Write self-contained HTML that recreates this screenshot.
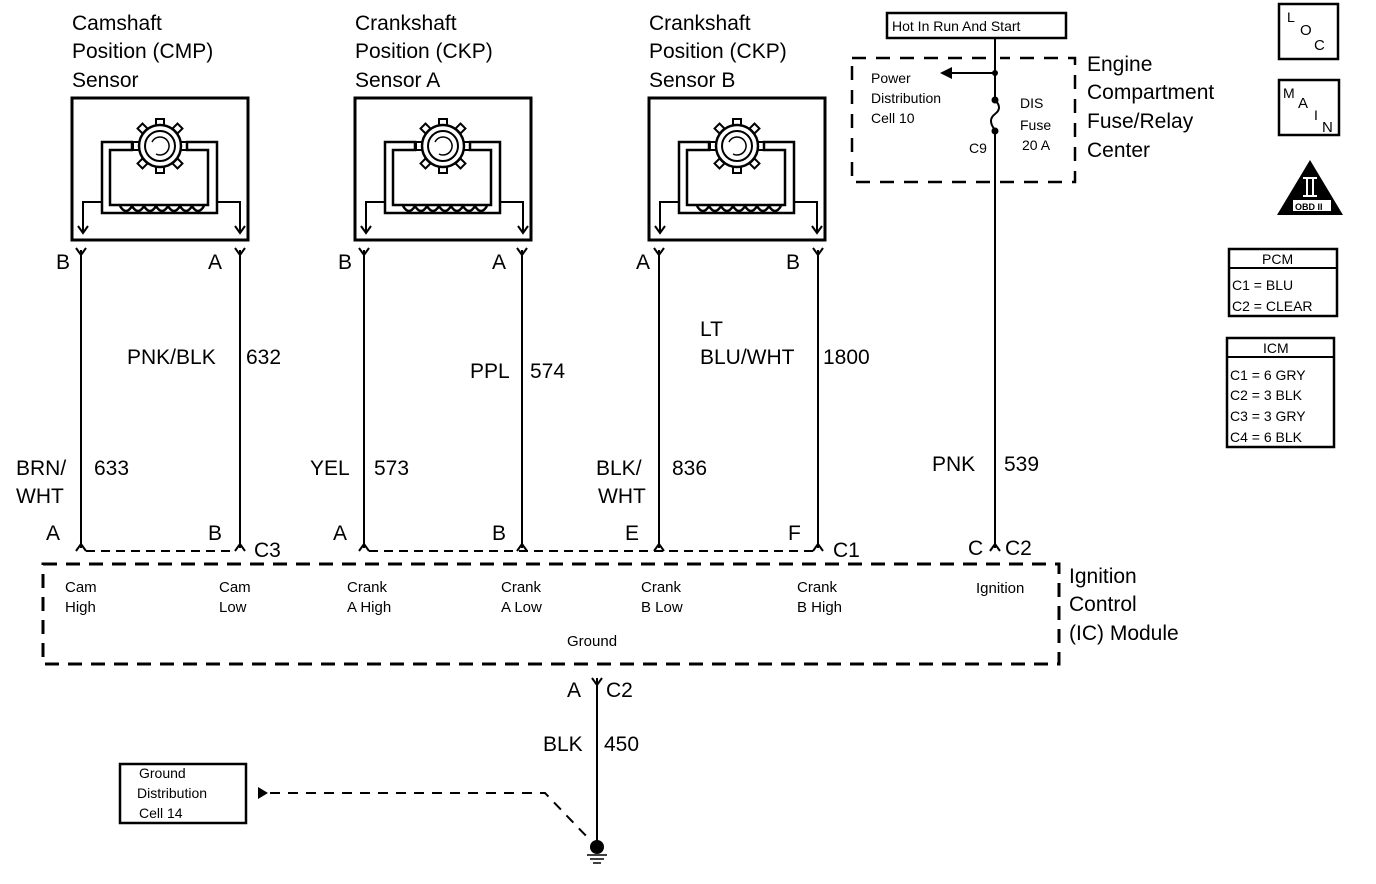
<!DOCTYPE html>
<html><head><meta charset="utf-8"><style>
html,body{margin:0;padding:0;background:#fff}
svg{display:block}
text{font-family:"Liberation Sans",Arial,sans-serif;fill:#000}
.big{font-size:21px}
.sm{font-size:15px}
.xs{font-size:14px}
</style></head><body>
<svg width="1376" height="884" viewBox="0 0 1376 884" xmlns="http://www.w3.org/2000/svg">
<defs>
<g id="sens" fill="none" stroke="#000" stroke-width="2.5">
<rect x="0" y="0" width="176" height="142" stroke-width="3"/>
<circle cx="88" cy="48" r="21"/>
<circle cx="88" cy="48" r="15" stroke-width="2"/>
<g stroke-width="2">
<rect x="84" y="21" width="8" height="6"/><rect x="84" y="69" width="8" height="6"/>
<rect x="61" y="44" width="6" height="8"/><rect x="109" y="44" width="6" height="8"/>
<rect x="67" y="27" width="7" height="7" transform="rotate(45 70.5 30.5)"/>
<rect x="102" y="27" width="7" height="7" transform="rotate(45 105.5 30.5)"/>
<rect x="67" y="62" width="7" height="7" transform="rotate(45 70.5 65.5)"/>
<rect x="102" y="62" width="7" height="7" transform="rotate(45 105.5 65.5)"/>
</g>
<path d="M80 44 A9 9 0 1 1 84 56" stroke-width="1.5"/>
<path d="M60 52 V44 H30 V115 H145 V44 H115 V52 H136 V107 H38 V52 Z" stroke-width="2.5"/>
<path d="M48 108 q6 10 12 0 q6 10 12 0 q6 10 12 0 q6 10 12 0 q6 10 12 0 q6 10 12 0 q6 10 12 0" stroke-width="2.5"/>
<path d="M30 104 H11 V134 M145 104 H168 V134" stroke-width="2"/>
<path d="M6 128 L11 135 L16 128 M163 128 L168 135 L173 128" stroke-width="2"/>
</g>
<g id="yc" fill="none" stroke="#000" stroke-width="2"><path d="M-5 0 L0 7 L5 0"/></g>
<g id="ac" fill="none" stroke="#000" stroke-width="2"><path d="M-5 7 L0 0 L5 7"/></g>
</defs>

<text class="big" x="72" y="30">Camshaft</text>
<text class="big" x="72" y="58">Position (CMP)</text>
<text class="big" x="72" y="87">Sensor</text>
<text class="big" x="355" y="30">Crankshaft</text>
<text class="big" x="355" y="58">Position (CKP)</text>
<text class="big" x="355" y="87">Sensor A</text>
<text class="big" x="649" y="30">Crankshaft</text>
<text class="big" x="649" y="58">Position (CKP)</text>
<text class="big" x="649" y="87">Sensor B</text>

<use href="#sens" x="72" y="98"/>
<use href="#sens" x="355" y="98"/>
<use href="#sens" x="649" y="98"/>

<g stroke="#000" stroke-width="2" fill="none">
<path d="M81 250 V548 M240 250 V548 M364 250 V548 M522 250 V548 M659 250 V548 M818 250 V548"/>
<path d="M995 38 V548"/>
<path d="M597 678 V848"/>
</g>
<g>
<use href="#yc" x="81" y="248"/><use href="#yc" x="240" y="248"/>
<use href="#yc" x="364" y="248"/><use href="#yc" x="522" y="248"/>
<use href="#yc" x="659" y="248"/><use href="#yc" x="818" y="248"/>
<use href="#ac" x="81" y="544"/><use href="#ac" x="240" y="544"/>
<use href="#ac" x="364" y="544"/><use href="#ac" x="522" y="544"/>
<use href="#ac" x="659" y="544"/><use href="#ac" x="818" y="544"/>
<use href="#ac" x="995" y="544"/>
<use href="#yc" x="597" y="678"/>
</g>
<path d="M86 551 H235 M369 551 H813" stroke="#000" stroke-width="2" stroke-dasharray="9,6" fill="none"/>

<text class="big" x="56" y="269">B</text><text class="big" x="208" y="269">A</text>
<text class="big" x="338" y="269">B</text><text class="big" x="492" y="269">A</text>
<text class="big" x="636" y="269">A</text><text class="big" x="786" y="269">B</text>

<text class="big" x="127" y="364">PNK/BLK</text><text class="big" x="246" y="364">632</text>
<text class="big" x="470" y="378">PPL</text><text class="big" x="530" y="378">574</text>
<text class="big" x="700" y="336">LT</text>
<text class="big" x="700" y="364">BLU/WHT</text><text class="big" x="823" y="364">1800</text>
<text class="big" x="16" y="475">BRN/</text><text class="big" x="16" y="503">WHT</text><text class="big" x="94" y="475">633</text>
<text class="big" x="310" y="475">YEL</text><text class="big" x="374" y="475">573</text>
<text class="big" x="596" y="475">BLK/</text><text class="big" x="598" y="503">WHT</text><text class="big" x="672" y="475">836</text>
<text class="big" x="932" y="471">PNK</text><text class="big" x="1004" y="471">539</text>

<text class="big" x="46" y="540">A</text><text class="big" x="208" y="540">B</text><text class="big" x="254" y="557">C3</text>
<text class="big" x="333" y="540">A</text><text class="big" x="492" y="540">B</text>
<text class="big" x="625" y="540">E</text><text class="big" x="788" y="540">F</text><text class="big" x="833" y="557">C1</text>
<text class="big" x="968" y="555">C</text><text class="big" x="1005" y="555">C2</text>

<rect x="43" y="564" width="1016" height="100" fill="none" stroke="#000" stroke-width="3" stroke-dasharray="14,9"/>
<text class="sm" x="65" y="592">Cam</text><text class="sm" x="65" y="612">High</text>
<text class="sm" x="219" y="592">Cam</text><text class="sm" x="219" y="612">Low</text>
<text class="sm" x="347" y="592">Crank</text><text class="sm" x="347" y="612">A High</text>
<text class="sm" x="501" y="592">Crank</text><text class="sm" x="501" y="612">A Low</text>
<text class="sm" x="641" y="592">Crank</text><text class="sm" x="641" y="612">B Low</text>
<text class="sm" x="797" y="592">Crank</text><text class="sm" x="797" y="612">B High</text>
<text class="sm" x="976" y="593">Ignition</text>
<text class="sm" x="567" y="646">Ground</text>
<text class="big" x="1069" y="583">Ignition</text>
<text class="big" x="1069" y="611">Control</text>
<text class="big" x="1069" y="640">(IC) Module</text>

<text class="big" x="567" y="697">A</text><text class="big" x="606" y="697">C2</text>
<text class="big" x="543" y="751">BLK</text><text class="big" x="604" y="751">450</text>
<circle cx="597" cy="847" r="7" fill="#000"/>
<path d="M587 855 H607 M590 859 H604 M593 863 H601" stroke="#000" stroke-width="1.5"/>
<rect x="120" y="764" width="126" height="59" fill="none" stroke="#000" stroke-width="2.5"/>
<text class="xs" x="139" y="778">Ground</text>
<text class="xs" x="137" y="798">Distribution</text>
<text class="xs" x="139" y="818">Cell 14</text>
<path d="M258 787 L268 793 L258 799 Z" fill="#000"/>
<path d="M270 793 H545 L590 840" stroke="#000" stroke-width="2" stroke-dasharray="10,8" fill="none"/>

<rect x="887" y="13" width="179" height="25" fill="none" stroke="#000" stroke-width="2.5"/>
<text class="xs" x="892" y="31">Hot In Run And Start</text>
<rect x="852" y="58" width="223" height="124" fill="none" stroke="#000" stroke-width="2.5" stroke-dasharray="14,10"/>
<rect x="990" y="45" width="10" height="170" fill="#fff"/>
<path d="M995 38 V100 M995 130 V548" stroke="#000" stroke-width="2"/>
<path d="M995 100 q8 8 0 14 q-8 6 0 16" stroke="#000" stroke-width="2" fill="none"/>
<circle cx="995" cy="73" r="3" fill="#000"/>
<circle cx="995" cy="100" r="3.5" fill="#000"/>
<circle cx="995" cy="131" r="3.5" fill="#000"/>
<path d="M995 73 H950" stroke="#000" stroke-width="2"/>
<path d="M940 73 L952 67 L952 79 Z" fill="#000"/>
<text class="xs" x="871" y="83">Power</text>
<text class="xs" x="871" y="103">Distribution</text>
<text class="xs" x="871" y="123">Cell 10</text>
<text class="xs" x="1020" y="108">DIS</text>
<text class="xs" x="1020" y="130">Fuse</text>
<text class="xs" x="1022" y="150">20 A</text>
<text class="xs" x="969" y="153">C9</text>
<text class="big" x="1087" y="71">Engine</text>
<text class="big" x="1087" y="99">Compartment</text>
<text class="big" x="1087" y="128">Fuse/Relay</text>
<text class="big" x="1087" y="157">Center</text>

<rect x="1279" y="4" width="59" height="55" fill="none" stroke="#000" stroke-width="2.5"/>
<text class="xs" x="1287" y="22">L</text><text class="sm" x="1300" y="35">O</text><text class="sm" x="1314" y="50">C</text>
<rect x="1279" y="80" width="60" height="55" fill="none" stroke="#000" stroke-width="2.5"/>
<text class="xs" x="1283" y="98">M</text><text class="sm" x="1298" y="108">A</text><text class="xs" x="1314" y="120">I</text><text class="sm" x="1322" y="132">N</text>
<path d="M1310 160 L1343 215 L1277 215 Z" fill="#000"/>
<rect x="1293" y="200" width="38" height="11" fill="#fff"/>
<text x="1295" y="210" style="font-size:9px;font-weight:bold">OBD II</text>
<path d="M1303 178 H1317 M1303 196 H1317 M1307 178 V196 M1313 178 V196" stroke="#fff" stroke-width="2"/>

<rect x="1229" y="249" width="108" height="67" fill="none" stroke="#000" stroke-width="2.5"/>
<path d="M1229 268 H1337" stroke="#000" stroke-width="2"/>
<text class="xs" x="1262" y="264">PCM</text>
<text class="xs" x="1232" y="290">C1 = BLU</text>
<text class="xs" x="1232" y="311">C2 = CLEAR</text>
<rect x="1227" y="338" width="107" height="109" fill="none" stroke="#000" stroke-width="2.5"/>
<path d="M1227 357 H1334" stroke="#000" stroke-width="2"/>
<text class="xs" x="1263" y="353">ICM</text>
<text class="xs" x="1230" y="380">C1 = 6 GRY</text>
<text class="xs" x="1230" y="400">C2 = 3 BLK</text>
<text class="xs" x="1230" y="421">C3 = 3 GRY</text>
<text class="xs" x="1230" y="442">C4 = 6 BLK</text>
</svg>
</body></html>
